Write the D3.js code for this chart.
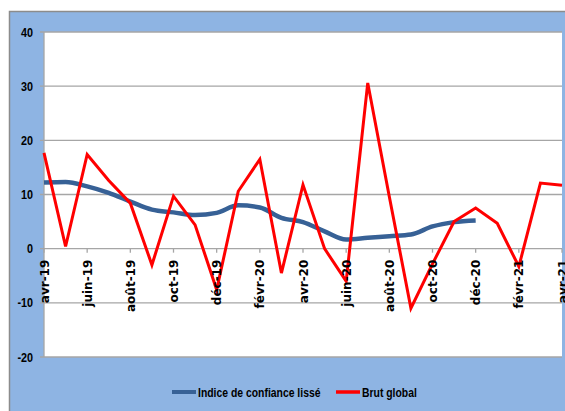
<!DOCTYPE html>
<html>
<head>
<meta charset="utf-8">
<script src="https://cdn.jsdelivr.net/npm/d3@7"></script>
<style>
  body { margin: 0; background: #fff; }
  svg { display: block; }
</style>
</head>
<body>
<div id="chart"></div>
<script>
var width = 565,
    height = 411,
    margin = {top: 32, right: 3, bottom: 54, left: 44};

// monthly periods, avr-19 .. avr-21
var months = ["avr-19","mai-19","juin-19","juil-19","août-19","sept-19","oct-19","nov-19","déc-19",
              "janv-20","févr-20","mars-20","avr-20","mai-20","juin-20","juil-20","août-20","sept-20",
              "oct-20","nov-20","déc-20","janv-21","févr-21","mars-21","avr-21"];
var tickLabels = ["avr-19","juin-19","août-19","oct-19","déc-19","févr-20","avr-20","juin-20",
                  "août-20","oct-20","déc-20","févr-21","avr-21"];
var yTicks = [-20, -10, 0, 10, 20, 30, 40];

var seriesNames = ["Indice de confiance lissé", "Brut global"];
var indiceLisse = [12.2, 12.3, 11.5, 10.3, 8.7, 7.2, 6.7, 6.2, 6.6, 8.0, 7.6, 5.7, 4.9, 3.2,
                   1.7, 2.0, 2.3, 2.6, 4.1, 4.9, 5.2];
var brutGlobal = [17.7, 0.4, 17.4, 12.6, 8.4, -3.0, 9.7, 4.4, -7.6, 10.6, 16.5, -4.5, 11.8, 0.0,
                  -6.0, 30.6, 9.6, -11.0, -2.8, 5.0, 7.5, 4.7, -3.3, 12.1, 11.7];

var narrow = "'Liberation Sans', Arial, sans-serif";

var svg = d3.select("#chart").append("svg")
    .attr("width", width)
    .attr("height", height);

// outer chart area
svg.append("rect")
    .attr("x", 9.5).attr("y", 11.5)
    .attr("width", width).attr("height", height)
    .attr("fill", "#8eb4e3")
    .attr("stroke", "#8c8c8c")
    .attr("stroke-width", 1.5);

var x = d3.scaleLinear()
    .domain([0, months.length - 1])
    .range([margin.left, width - margin.right]);
var y = d3.scaleLinear()
    .domain([-20, 40])
    .range([height - margin.bottom, margin.top]);

svg.append("rect")
    .attr("x", margin.left).attr("y", margin.top)
    .attr("width", width - margin.right - margin.left)
    .attr("height", y(-20) - y(40))
    .attr("fill", "#fff");

// gridlines
svg.append("g").selectAll("line")
    .data(yTicks)
    .enter().append("line")
    .attr("x1", margin.left - 4).attr("x2", width - margin.right)
    .attr("y1", d => y(d)).attr("y2", d => y(d))
    .attr("stroke", "#a6a6a6")
    .attr("stroke-width", 1.3);

// y axis line
svg.append("line")
    .attr("x1", margin.left).attr("x2", margin.left)
    .attr("y1", y(40)).attr("y2", y(-20))
    .attr("stroke", "#a6a6a6").attr("stroke-width", 1.3);

svg.append("g").selectAll("text")
    .data(yTicks)
    .enter().append("text")
    .attr("transform", d => "translate(33," + (y(d) + 4.5) + ") scale(0.8,1)")
    .attr("text-anchor", "end")
    .style("font-family", narrow)
    .style("font-weight", "bold")
    .style("font-size", "13.5px")
    .attr("fill", "#000")
    .text(d => d);

// x axis ticks at zero line
var tickIdx = tickLabels.map(d => months.indexOf(d));
svg.append("g").selectAll("line")
    .data(tickIdx)
    .enter().append("line")
    .attr("x1", d => x(d)).attr("x2", d => x(d))
    .attr("y1", y(0)).attr("y2", y(0) + 4)
    .attr("stroke", "#a6a6a6").attr("stroke-width", 1.3);

svg.append("path")
    .datum(indiceLisse)
    .attr("d", d3.line().x((d, i) => x(i)).y(d => y(d)).curve(d3.curveMonotoneX))
    .attr("fill", "none")
    .attr("stroke", "#376196")
    .attr("stroke-width", 4.5)
    .attr("stroke-linejoin", "round");

svg.append("path")
    .datum(brutGlobal)
    .attr("d", d3.line().x((d, i) => x(i)).y(d => y(d)))
    .attr("fill", "none")
    .attr("stroke", "#ff0000")
    .attr("stroke-width", 3);

// x labels (drawn on top of lines)
svg.append("g").selectAll("text")
    .data(tickIdx)
    .enter().append("text")
    .attr("transform", d => "translate(" + (x(d) + 4.5) + "," + (y(0) + 11) + ") rotate(-90)")
    .attr("text-anchor", "end")
    .style("font-family", "'DejaVu Sans', sans-serif")
    .style("font-weight", "bold")
    .style("font-size", "12px")
    .attr("fill", "#000")
    .text((d, i) => tickLabels[i]);

// legend
var legend = svg.append("g")
    .style("font-family", narrow)
    .style("font-weight", "bold")
    .style("font-size", "13px");
var legendItems = [
    {name: seriesNames[0], color: "#376196", w: 4, x0: 172},
    {name: seriesNames[1], color: "#ff0000", w: 3.5, x0: 336}
];
legendItems.forEach(function(d) {
    legend.append("line")
        .attr("x1", d.x0).attr("x2", d.x0 + 24)
        .attr("y1", 392).attr("y2", 392)
        .attr("stroke", d.color).attr("stroke-width", d.w);
    legend.append("text")
        .attr("transform", "translate(" + (d.x0 + 26) + ",396.5) scale(0.8,1)")
        .attr("fill", "#000")
        .text(d.name);
});
</script>
</body>
</html>
